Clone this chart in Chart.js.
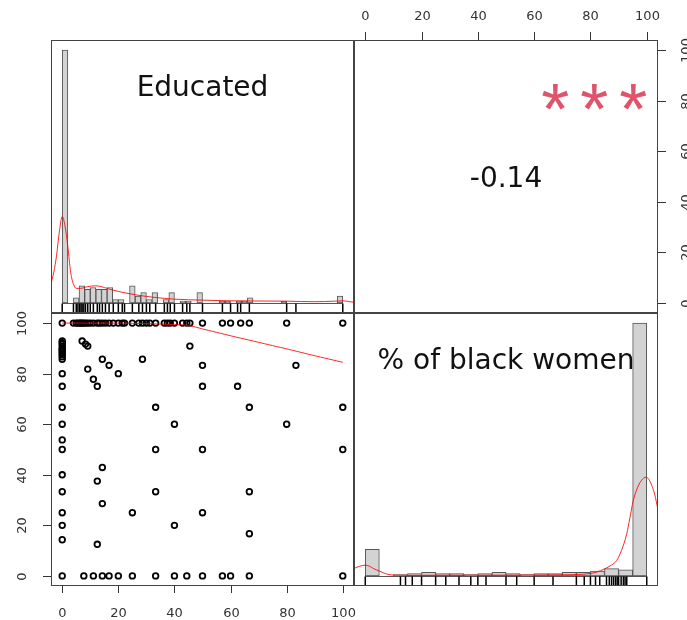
<!DOCTYPE html>
<html>
<head>
<meta charset="utf-8">
<title>Educated vs % of black women</title>
<script src="https://cdn.jsdelivr.net/npm/chart.js@4.4.1/dist/chart.umd.min.js"></script>
<style>
  html, body { margin: 0; padding: 0; background: #fff; }
  #wrap { position: relative; width: 687px; height: 620px; }
  #wrap canvas { position: absolute; left: 0; top: 0; }
</style>
</head>
<body>
<div id="wrap">
  <canvas id="hist-edu" width="687" height="620"></canvas>
  <canvas id="cor-box" width="687" height="620"></canvas>
  <canvas id="scatter" width="687" height="620"></canvas>
  <canvas id="hist-black" width="687" height="620"></canvas>
</div>
<script>
// ---- data ----
var varNames = ['Educated', '% of black women'];
var tickValues = [0, 20, 40, 60, 80, 100];
var corText = '-0.14';
var corStars = '***';

// one value per observation (x = Educated, y = % of black women)
var educated = [
  // row at 100
  0, 4, 5, 5.6, 6.2, 6.7, 7.1, 7.7, 8.3, 9.1,
  10, 11.1, 12.5, 13.3, 14.3, 15.4, 16.7, 18.2, 20, 21.4,
  22.2, 25, 27.3, 28.6, 30, 31.2, 33.3, 36.4, 37.5, 38.5,
  40, 42.9, 44.4, 45.5, 50, 57.1, 60, 63.6, 66.7, 80,
  100,
  // column at 0
  0, 0, 0, 0, 0, 0, 0, 0, 0, 0, 0,
  0, 0, 0, 0, 0, 0, 0, 0, 0, 0, 0,
  // the rest
  7.1, 8.3, 9.1, 9.1, 11.1, 12.5, 14.3, 16.7, 20, 28.6,
  45.5, 50, 50, 62.5, 66.7, 83.3, 33.3, 40, 80, 100,
  33.3, 50, 100, 14.3, 12.5, 14.3, 33.3, 66.7, 25, 50,
  40, 66.7, 12.5,
  // row at 0
  0, 7.7, 11.1, 14.3, 16.7, 20, 25, 33.3, 40, 44.4,
  50, 57.1, 60, 66.7, 100
];
var blackWomen = [
  100, 100, 100, 100, 100, 100, 100, 100, 100, 100,
  100, 100, 100, 100, 100, 100, 100, 100, 100, 100,
  100, 100, 100, 100, 100, 100, 100, 100, 100, 100,
  100, 100, 100, 100, 100, 100, 100, 100, 100, 100,
  100,
  92.9, 92.3, 91.7, 90.9, 90, 89.5, 88.9, 88.2, 87.5, 86.7, 85.7,
  80, 75, 66.7, 60, 53.8, 50, 40, 33.3, 25, 20, 14.3,
  92.9, 91.7, 90.9, 81.8, 77.8, 75, 85.7, 83.3, 80, 85.7,
  90.9, 83.3, 75, 75, 66.7, 83.3, 66.7, 60, 60, 66.7,
  50, 50, 50, 42.9, 37.5, 28.6, 33.3, 33.3, 25, 25,
  20, 16.7, 12.5,
  0, 0, 0, 0, 0, 0, 0, 0, 0, 0,
  0, 0, 0, 0, 0
];

// smoother in the scatter panel
var lowessX = [0, 10, 20, 30, 40, 45, 50, 60, 70, 80, 90, 100];
var lowessY = [100, 100, 100, 99.8, 99.4, 99.1, 97.7, 95, 92.4, 89.8, 87.1, 84.5];

// histogram of Educated (bins of 2, from 0 to 100)
var eduBinWidth = 2;
var eduCounts = [
  148, 0, 3, 10, 8, 9, 8, 8, 9, 2,
  2, 0, 10, 4, 6, 2, 6, 0, 2, 6,
  0, 1, 1, 0, 6, 0, 0, 0, 1, 1,
  0, 1, 1, 3, 0, 0, 0, 0, 0, 1,
  0, 0, 0, 0, 0, 0, 0, 0, 0, 4
];
var eduDensX = [-4, -3, -2, -1, 0, 1, 2, 3, 4, 5, 6.5, 9, 12, 15, 18, 22, 27, 33, 40, 50, 60, 70, 80, 90, 97, 100, 104];
var eduDensY = [11.4, 18, 28, 42, 50.6, 45, 33, 18, 11, 8.5, 8.5, 9.5, 10, 9, 7.5, 6, 4.5, 3.2, 2.2, 1.6, 1.2, 1.1, 1, 0.7, 1, 1.2, 0.3];

// histogram of % of black women (bins of 5, from 0 to 100)
var blackBinWidth = 5;
var blackCounts = [22, 0, 1, 2, 3, 2, 2, 1, 2, 3, 2, 1, 2, 2, 3, 3, 4, 6, 5, 210];
var blackDensX = [-4, -2, 0, 1.5, 3, 5, 6.5, 8, 10, 15, 20, 30, 40, 50, 60, 70, 77.5, 82, 85, 87.5, 89.3, 91, 92.9, 94, 95.2, 96.5, 97.6, 98.8, 99.8, 100.8, 101.8, 102.8, 104];
var blackDensY = [6.2, 8, 8.9, 8, 6, 4, 2.5, 1.3, 0.7, 0.5, 0.5, 0.6, 0.6, 0.6, 0.7, 0.9, 1.4, 3, 5.8, 9, 12.7, 21, 35, 48, 62.5, 72, 77.5, 81, 82, 80, 75, 68, 55];

// ---- layout of the 2x2 grid ----
var W = 687, H = 620;
var colX = [51, 354, 658];
var rowY = [40, 313, 586];
var FONT = '"DejaVu Sans", "Liberation Sans", sans-serif';
var RED = 'rgba(255, 0, 0, 0.85)';

function panelPadding(col, row) {
  return { left: colX[col], right: W - colX[col + 1], top: rowY[row], bottom: H - rowY[row + 1] };
}

function linScale(min, max) {
  return {
    type: 'linear', min: min, max: max, display: false, offset: false,
    grid: { offset: false },
    afterBuildTicks: function(scale) {
      scale.ticks = tickValues.map(function(v) { return { value: v }; });
    }
  };
}

function toPoints(xs, ys) {
  return xs.map(function(x, i) { return { x: x, y: ys[i] }; });
}

function histPoints(counts, bw) {
  return counts.map(function(c, i) { return { x: i * bw + bw / 2, y: c }; });
}

function unique(arr) {
  return arr.filter(function(v, i) { return arr.indexOf(v) === i; });
}

function baseOptions(padding, xScale, yScale) {
  return {
    responsive: false,
    animation: false,
    events: [],
    layout: { padding: padding },
    plugins: { legend: { display: false }, tooltip: { enabled: false } },
    scales: { x: xScale, y: yScale }
  };
}

// ---- drawing helpers (all positions come from the chart's scales) ----
function drawFrame(chart) {
  var ctx = chart.ctx, a = chart.chartArea;
  ctx.save();
  ctx.strokeStyle = '#444';
  ctx.lineWidth = 1;
  ctx.strokeRect(a.left + 0.5, a.top + 0.5, a.right - a.left - 1, a.bottom - a.top - 1);
  ctx.restore();
}

function drawRug(chart, values) {
  var ctx = chart.ctx, a = chart.chartArea, xs = chart.scales.x;
  var len = (a.bottom - a.top) * 0.035;
  ctx.save();
  ctx.strokeStyle = '#000';
  ctx.lineWidth = 1.5;
  values.forEach(function(v) {
    var px = xs.getPixelForValue(v);
    ctx.beginPath();
    ctx.moveTo(px, a.bottom);
    ctx.lineTo(px, a.bottom - len);
    ctx.stroke();
  });
  ctx.restore();
}

function drawBaseline(chart, nBins, bw) {
  var ctx = chart.ctx, xs = chart.scales.x, ys = chart.scales.y;
  var py = Math.round(ys.getPixelForValue(0)) + 0.5;
  ctx.save();
  ctx.strokeStyle = '#555';
  ctx.lineWidth = 1;
  ctx.beginPath();
  ctx.moveTo(xs.getPixelForValue(0), py);
  ctx.lineTo(xs.getPixelForValue(nBins * bw), py);
  ctx.stroke();
  ctx.restore();
}

function drawLabel(chart, text, font, fx, baseOffset, color, spacing) {
  var ctx = chart.ctx, a = chart.chartArea;
  ctx.save();
  ctx.font = font;
  ctx.fillStyle = color || '#111';
  ctx.textAlign = 'center';
  ctx.textBaseline = 'alphabetic';
  var shift = 0;
  if (spacing) {
    ctx.letterSpacing = spacing + 'px';
    shift = spacing / 2;
  }
  ctx.fillText(text, a.left + (a.right - a.left) * fx + shift, a.top + baseOffset);
  ctx.restore();
}

function drawAxis(chart, side) {
  var ctx = chart.ctx, a = chart.chartArea;
  var scale = (side === 'bottom' || side === 'top') ? chart.scales.x : chart.scales.y;
  ctx.save();
  ctx.strokeStyle = '#333';
  ctx.fillStyle = '#333';
  ctx.lineWidth = 1;
  ctx.font = '13px ' + FONT;
  ctx.textAlign = 'center';
  ctx.textBaseline = 'alphabetic';
  tickValues.forEach(function(v) {
    var p = Math.round(scale.getPixelForValue(v)) + 0.5;
    ctx.beginPath();
    if (side === 'bottom') {
      ctx.moveTo(p, a.bottom); ctx.lineTo(p, a.bottom + 7); ctx.stroke();
      ctx.fillText(String(v), p, a.bottom + 30.5);
    } else if (side === 'top') {
      ctx.moveTo(p, a.top); ctx.lineTo(p, a.top - 8); ctx.stroke();
      ctx.fillText(String(v), p, a.top - 20.5);
    } else if (side === 'left') {
      ctx.moveTo(a.left, p); ctx.lineTo(a.left - 8, p); ctx.stroke();
      ctx.save();
      ctx.translate(a.left - 25, p);
      ctx.rotate(-Math.PI / 2);
      ctx.fillText(String(v), 0, 0);
      ctx.restore();
    } else {
      ctx.moveTo(a.right, p); ctx.lineTo(a.right + 8, p); ctx.stroke();
      ctx.save();
      ctx.translate(a.right + 31.5, p);
      ctx.rotate(-Math.PI / 2);
      ctx.fillText(String(v), 0, 0);
      ctx.restore();
    }
  });
  ctx.restore();
}

// ---- top left: histogram of Educated ----
var eduMax = Math.max.apply(null, eduCounts);
new Chart(document.getElementById('hist-edu'), {
  type: 'bar',
  data: {
    datasets: [
      {
        type: 'line',
        data: toPoints(eduDensX, eduDensY),
        borderColor: RED,
        borderWidth: 1,
        pointRadius: 0,
        cubicInterpolationMode: 'monotone'
      },
      {
        type: 'bar',
        data: histPoints(eduCounts, eduBinWidth),
        backgroundColor: '#d3d3d3',
        borderColor: '#555',
        borderWidth: 1,
        borderSkipped: false,
        barPercentage: 1,
        categoryPercentage: 1
      }
    ]
  },
  options: baseOptions(panelPadding(0, 0), linScale(-4, 104), linScale(-0.04 * eduMax, 1.04 * eduMax)),
  plugins: [{
    id: 'eduDecor',
    beforeDatasetsDraw: function(chart) { drawBaseline(chart, eduCounts.length, eduBinWidth); },
    afterDatasetsDraw: function(chart) {
      drawRug(chart, unique(educated));
      drawLabel(chart, varNames[0], '28px ' + FONT, 0.5, 56);
      drawFrame(chart);
    }
  }]
});

// ---- top right: correlation ----
new Chart(document.getElementById('cor-box'), {
  type: 'scatter',
  data: { datasets: [] },
  options: baseOptions(panelPadding(1, 0), linScale(-4, 104), linScale(-4, 104)),
  plugins: [{
    id: 'corDecor',
    afterDraw: function(chart) {
      var h = chart.chartArea.bottom - chart.chartArea.top;
      drawLabel(chart, corText, '28px ' + FONT, 0.5, h * 0.5 + 10.5);
      drawLabel(chart, corStars, '72px "Liberation Sans", Arial, sans-serif', 0.79, h * 0.2 + 39, '#DF536B', 11);
      drawFrame(chart);
      drawAxis(chart, 'top');
      drawAxis(chart, 'right');
    }
  }]
});

// ---- bottom left: scatter ----
new Chart(document.getElementById('scatter'), {
  type: 'scatter',
  data: {
    datasets: [
      {
        type: 'line',
        data: toPoints(lowessX, lowessY),
        borderColor: RED,
        borderWidth: 1,
        pointRadius: 0,
        tension: 0.2
      },
      {
        data: toPoints(educated, blackWomen),
        pointStyle: 'circle',
        pointRadius: 2.8,
        borderWidth: 1.8,
        borderColor: '#000',
        backgroundColor: 'rgba(0,0,0,0)'
      }
    ]
  },
  options: baseOptions(panelPadding(0, 1), linScale(-4, 104), linScale(-4, 104)),
  plugins: [{
    id: 'scatterDecor',
    afterDraw: function(chart) {
      drawFrame(chart);
      drawAxis(chart, 'bottom');
      drawAxis(chart, 'left');
    }
  }]
});

// ---- bottom right: histogram of % of black women ----
var blackMax = Math.max.apply(null, blackCounts);
new Chart(document.getElementById('hist-black'), {
  type: 'bar',
  data: {
    datasets: [
      {
        type: 'line',
        data: toPoints(blackDensX, blackDensY),
        borderColor: RED,
        borderWidth: 1,
        pointRadius: 0,
        cubicInterpolationMode: 'monotone'
      },
      {
        type: 'bar',
        data: histPoints(blackCounts, blackBinWidth),
        backgroundColor: '#d3d3d3',
        borderColor: '#555',
        borderWidth: 1,
        borderSkipped: false,
        barPercentage: 1,
        categoryPercentage: 1
      }
    ]
  },
  options: baseOptions(panelPadding(1, 1), linScale(-4, 104), linScale(-0.04 * blackMax, 1.04 * blackMax)),
  plugins: [{
    id: 'blackDecor',
    beforeDatasetsDraw: function(chart) { drawBaseline(chart, blackCounts.length, blackBinWidth); },
    afterDatasetsDraw: function(chart) {
      drawRug(chart, unique(blackWomen));
      drawLabel(chart, varNames[1], '28px ' + FONT, 0.5, 56);
      drawFrame(chart);
    }
  }]
});
</script>
</body>
</html>
